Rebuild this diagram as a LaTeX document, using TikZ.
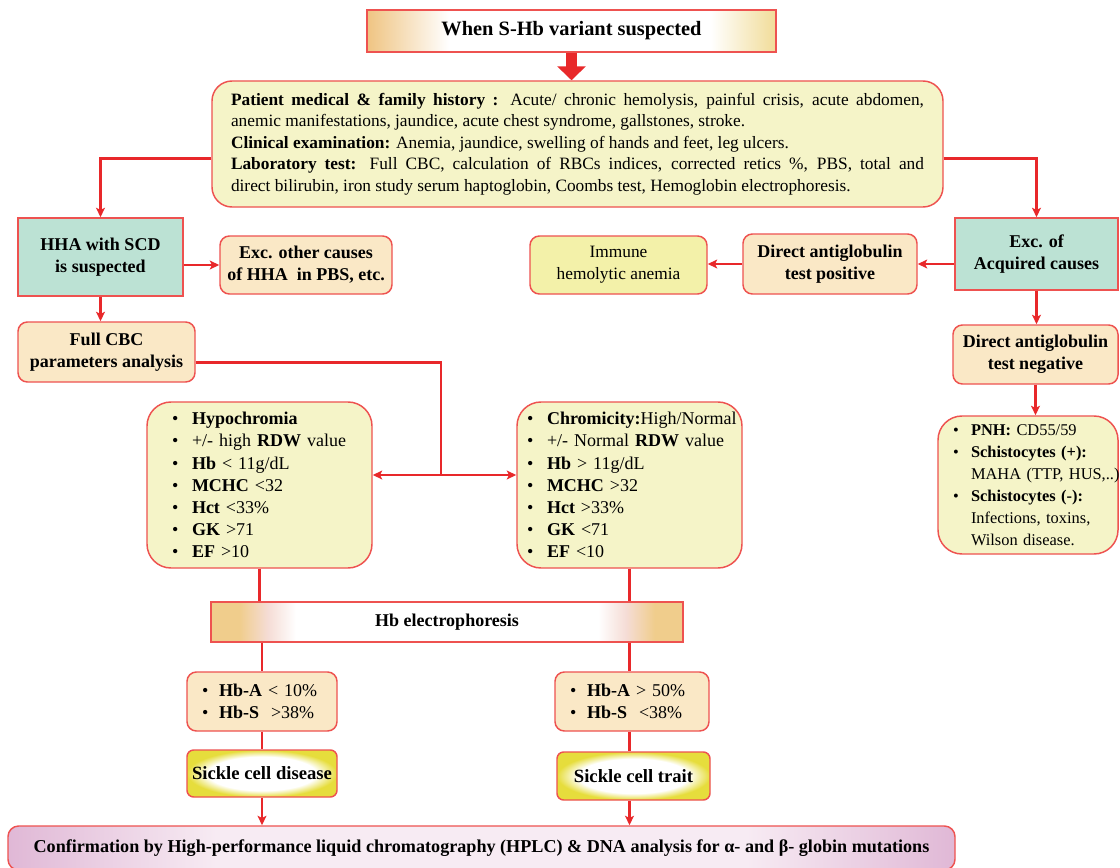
\documentclass[tikz,border=0pt]{standalone}
\usepackage{fontspec}
\setmainfont{Liberation Serif}
\usepackage{tikz}
\usetikzlibrary{arrows.meta,positioning}

\definecolor{boxred}{HTML}{EE5250}
\definecolor{linered}{HTML}{E8282A}
\definecolor{paleyel}{HTML}{F5F4C8}
\definecolor{peach}{HTML}{FAE8C6}
\definecolor{tealbg}{HTML}{BCE2D4}
\definecolor{immyel}{HTML}{F3F1A9}
\definecolor{tanA}{HTML}{EFC482}
\definecolor{tanB}{HTML}{F1DC98}
\definecolor{elecTan}{HTML}{F0CD8C}
\definecolor{elecPink}{HTML}{F5DCD5}
\definecolor{glowY}{HTML}{E6DD3C}
\definecolor{confPink}{HTML}{E0B8D6}
\definecolor{confLight}{HTML}{F7EBF3}

\pgfdeclarehorizontalshading{titleshade}{100bp}{color(0bp)=(tanA); color(25bp)=(tanA); color(35bp)=(white); color(67bp)=(white); color(75bp)=(tanB); color(100bp)=(tanB)}
\pgfdeclarehorizontalshading{elecshade}{100bp}{color(0bp)=(elecTan); color(28bp)=(elecTan); color(31bp)=(elecPink); color(34bp)=(white); color(66bp)=(white); color(69bp)=(elecPink); color(72bp)=(elecTan); color(100bp)=(elecTan)}
\pgfdeclarehorizontalshading{confshade}{100bp}{color(0bp)=(confPink); color(25bp)=(confPink); color(36bp)=(confLight); color(64bp)=(confLight); color(75bp)=(confPink); color(100bp)=(confPink)}
\pgfdeclareradialshading{glowshade}{\pgfpointorigin}{color(0bp)=(white); color(18bp)=(white); color(25bp)=(glowY); color(50bp)=(glowY)}

\newcommand{\bitem}[2][15pt]{\mbox{\makebox[#1][l]{\textbullet}#2}}
\newcommand{\bcont}[2][15pt]{\mbox{\hspace*{#1}#2}}

\begin{document}
\begin{tikzpicture}[x=0.75pt,y=-0.75pt,
    box/.style={draw=boxred,line width=1.1pt,inner sep=0pt,align=center},
    boldtxt/.style={font=\bfseries\fontsize{13.5}{16.5}\selectfont},
    tealbox/.style={box,boldtxt,fill=tealbg},
    peachbox/.style={box,boldtxt,fill=peach,rounded corners=7pt},
    listbox/.style={box,fill=paleyel,rounded corners=18pt,align=left,font=\fontsize{13.5}{16.6}\selectfont},
    conn/.style={draw=linered,line width=2pt},
    arr/.style={conn,-{Stealth[length=7pt,width=6.5pt,inset=1.5pt]}}]
  \fill[white] (0,0) rectangle (1120,867);
  \useasboundingbox (0,0) rectangle (1120,867);

  \node[box,shading=titleshade,font=\bfseries\fontsize{15.3}{18}\selectfont,minimum width=306.75pt,minimum height=31.5pt] (title) at (571.5,31) {When S-Hb variant suspected};
  \node[box,fill=paleyel,rounded corners=15pt,align=justify,text width=519.75pt,minimum width=548.25pt,minimum height=94.5pt,font=\fontsize{13}{16.1}\selectfont] (hist) at (577.5,144)
    {\textbf{Patient medical \& family history :} Acute/ chronic hemolysis, painful crisis, acute abdomen,\linebreak
     anemic manifestations, jaundice, acute chest syndrome, gallstones, stroke.\\
     \textbf{Clinical examination:} Anemia, jaundice, swelling of hands and feet, leg ulcers.\\
     \textbf{Laboratory test:} Full CBC, calculation of RBCs indices, corrected retics \%, PBS, total and\linebreak
     direct bilirubin, iron study serum haptoglobin, Coombs test, Hemoglobin electrophoresis.};

  \node[tealbox,minimum width=123.75pt,minimum height=58.5pt] (hha) at (100.5,257) {HHA with SCD\\is suspected};
  \node[peachbox,minimum width=129pt,minimum height=43.5pt] (excoth) at (306,265) {Exc. other causes\\of HHA\ \ in PBS, etc.};
  \node[peachbox,minimum width=132.75pt,minimum height=45pt] (fullcbc) at (106.5,352) {Full CBC\\parameters analysis};

  \node[tealbox,minimum width=122.25pt,minimum height=54pt] (excacq) at (1036.5,254) {Exc. of\\Acquired causes};
  \node[peachbox,minimum width=130.5pt,minimum height=45pt] (datpos) at (830,264) {Direct antiglobulin\\test positive};
  \node[box,fill=immyel,rounded corners=7pt,minimum width=132.75pt,minimum height=43.5pt,font=\fontsize{13}{16.5}\selectfont] (immune) at (618.5,265) {Immune\\hemolytic anemia};
  \node[peachbox,minimum width=123.75pt,minimum height=44.25pt] (datneg) at (1035.5,354.5) {Direct antiglobulin\\test negative};
  \node[listbox,font=\fontsize{12.3}{16.5}\selectfont,minimum width=135pt,minimum height=103.5pt,text width=112.5pt] (pnh) at (1028,485)
    {\bitem[13.5pt]{\textbf{PNH:} CD55/59}\\
     \bitem[13.5pt]{\textbf{Schistocytes (+):}}\\
     \bcont[13.5pt]{MAHA (TTP, HUS,..)}\\
     \bitem[13.5pt]{\textbf{Schistocytes (-):}}\\
     \bcont[13.5pt]{Infections, toxins,}\\
     \bcont[13.5pt]{Wilson disease.}};

  \node[listbox,minimum width=168.75pt,minimum height=124.5pt,text width=131.25pt] (hypo) at (259.5,485)
    {\bitem{\textbf{Hypochromia}}\\
     \bitem{+/- high \textbf{RDW} value}\\
     \bitem{\textbf{Hb} < 11g/dL}\\
     \bitem{\textbf{MCHC} <32}\\
     \bitem{\textbf{Hct} <33\%}\\
     \bitem{\textbf{GK} >71}\\
     \bitem{\textbf{EF} >10}};
  \node[listbox,minimum width=168.75pt,minimum height=124.5pt,text width=153.75pt] (chrom) at (629.5,485)
    {\bitem{\textbf{Chromicity:}High/Normal}\\
     \bitem{+/- Normal \textbf{RDW} value}\\
     \bitem{\textbf{Hb} > 11g/dL}\\
     \bitem{\textbf{MCHC} >32}\\
     \bitem{\textbf{Hct} >33\%}\\
     \bitem{\textbf{GK} <71}\\
     \bitem{\textbf{EF} <10}};

  \node[box,boldtxt,shading=elecshade,minimum width=354pt,minimum height=30pt] (elec) at (447,622) {Hb electrophoresis};
  \node[peachbox,align=left,font=\fontsize{13.5}{16.5}\selectfont,minimum width=112.5pt,minimum height=44.25pt,text width=90pt] (hbal) at (262,701.5)
    {\bitem[12.75pt]{\textbf{Hb-A} < 10\%}\\
     \bitem[12.75pt]{\textbf{Hb-S}\ \ >38\%}};
  \node[peachbox,align=left,font=\fontsize{13.5}{16.5}\selectfont,minimum width=115.5pt,minimum height=44.25pt,text width=93pt] (hbar) at (632,701.5)
    {\bitem[12.75pt]{\textbf{Hb-A} > 50\%}\\
     \bitem[12.75pt]{\textbf{Hb-S}\ \ <38\%}};
  \node[box,boldtxt,shading=glowshade,rounded corners=5pt,font=\bfseries\fontsize{14}{16}\selectfont,minimum width=112.5pt,minimum height=35.25pt] (scd) at (262,773.5) {Sickle cell disease};
  \node[box,boldtxt,shading=glowshade,rounded corners=5pt,font=\bfseries\fontsize{14}{16}\selectfont,minimum width=114.75pt,minimum height=36pt] (sct) at (633.5,776) {Sickle cell trait};
  \node[box,shading=confshade,rounded corners=8pt,font=\bfseries\fontsize{13.6}{16}\selectfont,minimum width=710.25pt,minimum height=33pt] (conf) at (481.5,848)
    {Confirmation by High-performance liquid chromatography (HPLC) \& DNA analysis for α- and β- globin mutations};

  \coordinate (split) at (441,475);

  \draw[draw=linered,line width=8.5pt,-{Triangle[width=21pt,length=10.5pt]}] (title.south) -- (title.south |- hist.north);
  \draw[arr] ([yshift=-11pt]hist.west) -| (hha.north);
  \draw[arr] ([yshift=-11pt]hist.east) -| (excacq.north);
  \draw[arr] (hha.east |- excoth.west) -- (excoth.west);
  \draw[arr] (hha.south) -- (hha.south |- fullcbc.north);
  \draw[conn] ([yshift=-8pt]fullcbc.east) -| (split);
  \draw[arr] (split) -- (split -| hypo.east);
  \draw[arr] (split) -- (split -| chrom.west);
  \draw[arr] (excacq.west |- datpos.east) -- (datpos.east);
  \draw[arr] (datpos.west) -- (datpos.west -| immune.east);
  \draw[arr] (excacq.south) -- (excacq.south |- datneg.north);
  \draw[arr] (datneg.south) -- (datneg.south |- pnh.north);
  \draw[conn] (hypo.south) -- (hypo.south |- elec.north);
  \draw[conn] (chrom.south) -- (chrom.south |- elec.north);
  \draw[conn] (hbal.north |- elec.south) -- (hbal.north);
  \draw[conn] (chrom.south |- elec.south) -- (chrom.south |- hbar.north);
  \draw[conn] (hbal.south) -- (scd.north);
  \draw[conn] (chrom.south |- hbar.south) -- (chrom.south |- sct.north);
  \draw[arr] (scd.south) -- (scd.south |- conf.north);
  \draw[arr] (chrom.south |- sct.south) -- (chrom.south |- conf.north);
\end{tikzpicture}
\end{document}
